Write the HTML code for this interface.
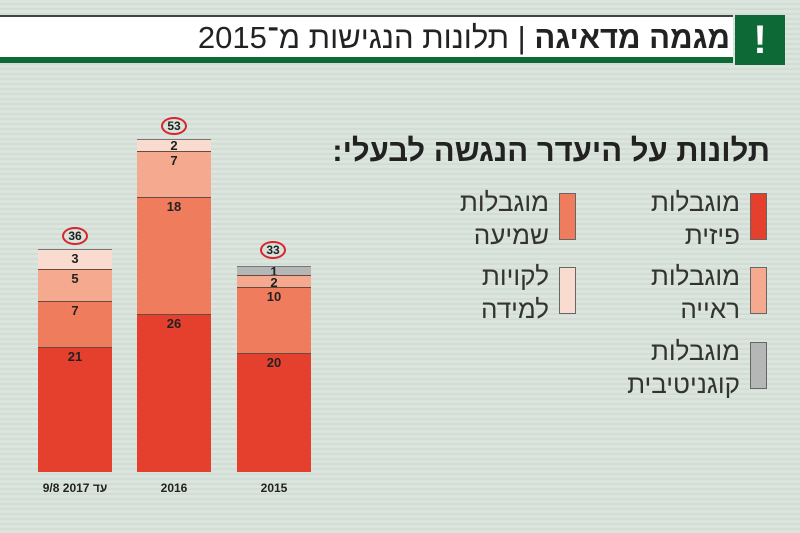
<!DOCTYPE html>
<html><head><meta charset="utf-8"><style>
body{margin:0;width:800px;height:533px;overflow:hidden;position:relative;font-family:"Liberation Sans","Noto Sans CJK SC",sans-serif;
background:repeating-linear-gradient(#dbe4dd 0 3px,#d2ddd5 3px 5px);}
.a{position:absolute}
.seg{position:absolute;border-top:1px solid #6a4a40;box-sizing:border-box;text-align:center;font-weight:bold;font-size:13px;color:#222;line-height:18px}
.lt{position:absolute;direction:rtl;text-align:right;font-size:26px;line-height:33px;color:#333;width:140px}
.sq{position:absolute;width:17px;height:47px;border:1px solid #666;box-sizing:border-box}
.c{position:absolute;width:26px;height:18px;border:2px solid #d8262c;border-radius:50%;box-sizing:border-box;font-size:12px;font-weight:bold;text-align:center;line-height:14px;color:#222}
.yl{position:absolute;font-size:12px;font-weight:bold;color:#222;text-align:center;width:90px}
.ib{display:inline-block}
</style></head><body>
<div class="a" style="left:0;top:15px;width:733px;height:42px;background:#fff;border-top:2px solid #444;box-sizing:border-box"></div>
<div class="a" style="left:0;top:57px;width:733px;height:6px;background:#0d6a36"></div>
<div class="a" style="left:735px;top:15px;width:50px;height:50px;background:#0d6a36;color:#fff;font-size:40px;font-weight:bold;text-align:center;line-height:50px">!</div>
<div class="a" style="right:70px;top:17px;direction:rtl;font-size:31px;line-height:42px;color:#222;white-space:nowrap"><b>מגמה מדאיגה</b> | תלונות הנגישות מ־2015</div>

<div class="a" style="right:30px;top:133px;direction:rtl;font-size:31px;font-weight:bold;color:#222;white-space:nowrap">תלונות על היעדר הנגשה לבעלי:</div>

<div class="sq" style="left:750px;top:193px;background:#e53f2e"></div>
<div class="lt" style="left:600px;top:186px">מוגבלות<br>פיזית</div>
<div class="sq" style="left:559px;top:193px;background:#f07c5e"></div>
<div class="lt" style="left:409px;top:186px">מוגבלות<br>שמיעה</div>
<div class="sq" style="left:750px;top:267px;background:#f5a98e"></div>
<div class="lt" style="left:600px;top:260px">מוגבלות<br>ראייה</div>
<div class="sq" style="left:559px;top:267px;background:#fadbd0"></div>
<div class="lt" style="left:409px;top:260px">לקויות<br>למידה</div>
<div class="sq" style="left:750px;top:342px;background:#b5b7b6"></div>
<div class="lt" style="left:600px;top:335px">מוגבלות<br>קוגניטיבית</div>

<!-- bar 1 -->
<div class="seg" style="left:38px;width:74px;top:249px;height:20px;background:#fadbd0;border-top-color:#777">3</div>
<div class="seg" style="left:38px;width:74px;top:269px;height:32px;background:#f5a98e">5</div>
<div class="seg" style="left:38px;width:74px;top:301px;height:46px;background:#f07c5e">7</div>
<div class="seg" style="left:38px;width:74px;top:347px;height:125px;background:#e53f2e">21</div>
<div class="c" style="left:62px;top:227px">36</div>
<!-- bar 2 -->
<div class="seg" style="left:137px;width:74px;top:139px;height:12px;background:#fadbd0;border-top-color:#777;line-height:11px">2</div>
<div class="seg" style="left:137px;width:74px;top:151px;height:46px;background:#f5a98e">7</div>
<div class="seg" style="left:137px;width:74px;top:197px;height:117px;background:#f07c5e">18</div>
<div class="seg" style="left:137px;width:74px;top:314px;height:158px;background:#e53f2e">26</div>
<div class="c" style="left:161px;top:117px">53</div>
<!-- bar 3 -->
<div class="seg" style="left:237px;width:74px;top:266px;height:9px;background:#b5b7b6;border-top-color:#777;line-height:9px">1</div>
<div class="seg" style="left:237px;width:74px;top:275px;height:12px;background:#f5a98e;line-height:13px">2</div>
<div class="seg" style="left:237px;width:74px;top:287px;height:66px;background:#f07c5e">10</div>
<div class="seg" style="left:237px;width:74px;top:353px;height:119px;background:#e53f2e">20</div>
<div class="c" style="left:260px;top:241px">33</div>

<div class="yl" style="left:30px;top:481px;direction:ltr"><span class="ib">9/8</span> <span class="ib">2017</span> <span class="ib" dir="rtl">עד</span></div>
<div class="yl" style="left:129px;top:481px">2016</div>
<div class="yl" style="left:229px;top:481px">2015</div>
</body></html>
